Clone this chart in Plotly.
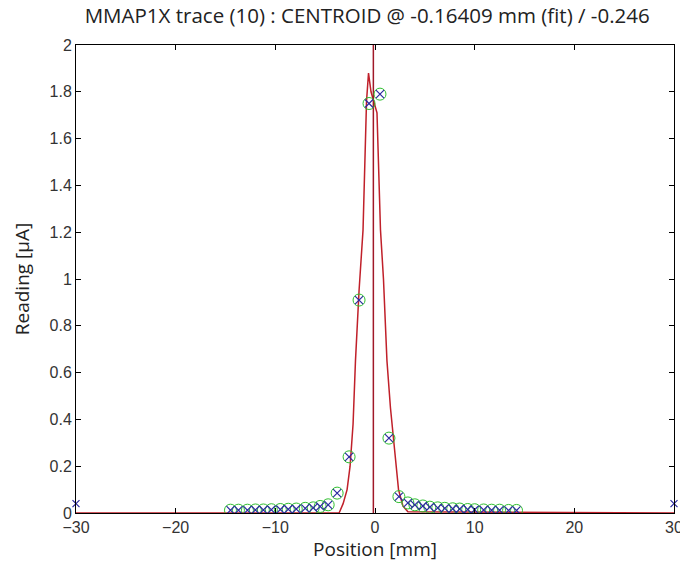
import plotly.graph_objects as go

# Measured points (Position [mm], Reading [uA])
pos = [-14.5, -13.7, -12.8, -12.0, -11.2, -10.4, -9.5, -8.7, -7.9, -7.0, -6.2, -5.5, -4.7, -3.8,
       -2.6, -1.6, -0.6, 0.5, 1.4, 2.4,
       3.3, 4.0, 4.8, 5.5, 6.3, 7.0, 7.8, 8.5, 9.3, 10.0, 10.9, 11.7, 12.5, 13.4, 14.2]
reading = [0.012, 0.012, 0.012, 0.013, 0.013, 0.014, 0.015, 0.016, 0.017, 0.020, 0.022, 0.028, 0.035, 0.085,
           0.24, 0.91, 1.75, 1.79, 0.32, 0.07,
           0.043, 0.035, 0.030, 0.025, 0.022, 0.020, 0.018, 0.017, 0.015, 0.014, 0.013, 0.012, 0.012, 0.011, 0.011]

# End markers
end_pos = [-30, 30]
end_reading = [0.04, 0.04]

# Fit curve
fit_x = [-30, -3.6, -3.2, -2.8, -2.5, -2.2, -1.96, -1.6, -1.2, -1.0, -0.85, -0.65,
         -0.4, 0.2, 0.55, 0.85, 1.2, 1.55, 1.86, 2.36, 2.8, 3.3, 30]
fit_y = [0.0, 0.0, 0.04, 0.10, 0.20, 0.38, 0.65, 0.95, 1.21, 1.60, 1.76, 1.88,
         1.80, 1.71, 1.21, 1.0, 0.65, 0.45, 0.32, 0.10, 0.03, 0.005, 0.0]

centroid = -0.16409
title = "MMAP1X trace (10) : CENTROID @ -0.16409 mm (fit) / -0.246"

fig = go.Figure()
fig.add_trace(go.Scatter(x=fit_x, y=fit_y, mode="lines",
                         line=dict(color="#c0202a", width=1.5), showlegend=False))
fig.add_trace(go.Scatter(x=[centroid, centroid], y=[0, 2], mode="lines",
                         line=dict(color="#a01828", width=1.5), showlegend=False))
fig.add_trace(go.Scatter(x=pos, y=reading, mode="markers",
                         marker=dict(symbol="circle-open", size=12, color="#30c030",
                                     line=dict(width=1)), showlegend=False))
fig.add_trace(go.Scatter(x=pos, y=reading, mode="markers",
                         marker=dict(symbol="x-thin-open", size=8, color="#2a2aa0",
                                     line=dict(width=1.2, color="#2a2aa0")), showlegend=False))
fig.add_trace(go.Scatter(x=end_pos, y=end_reading, mode="markers",
                         marker=dict(symbol="x-thin-open", size=7, color="#2a2aa0",
                                     line=dict(width=1.2, color="#2a2aa0")), showlegend=False,
                         cliponaxis=False))

axis_common = dict(showgrid=False, zeroline=False, showline=True, linecolor="black",
                   linewidth=1, mirror="ticks", ticks="inside", ticklen=5,
                   tickcolor="black", ticklabeloverflow="allow", automargin=False,
                   tickfont=dict(family="Liberation Sans, Arial", size=16, color="#333333"))

fig.update_layout(
    width=680, height=568,
    margin=dict(l=76, r=6, t=45, b=55),
    paper_bgcolor="white", plot_bgcolor="white",
    title=dict(text=title, x=0.54, xanchor="center", y=0.972, yanchor="middle",
               font=dict(family="Open Sans", size=20.5, color="#222222")),
    xaxis=dict(range=[-30, 30], tickvals=[-30, -20, -10, 0, 10, 20, 30],
               title=dict(text="Position [mm]", standoff=5,
                          font=dict(family="Open Sans", size=19, color="#222222")),
               **axis_common),
    yaxis=dict(range=[0, 2], tickvals=[0, 0.2, 0.4, 0.6, 0.8, 1, 1.2, 1.4, 1.6, 1.8, 2],
               ticktext=["0", "0.2", "0.4", "0.6", "0.8", "1", "1.2", "1.4", "1.6", "1.8", "2"],
               title=dict(text="Reading [μA]", standoff=14,
                          font=dict(family="Open Sans", size=19, color="#222222")),
               **axis_common),
)

fig.write_html("out.html")
